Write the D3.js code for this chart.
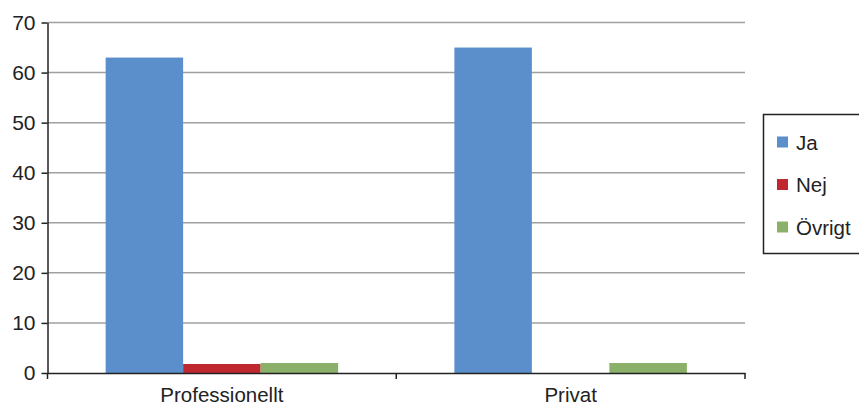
<!DOCTYPE html>
<html>
<head>
<meta charset="utf-8">
<script src="https://cdn.jsdelivr.net/npm/d3@7"></script>
<style>
  html, body { margin: 0; padding: 0; background: #fff; }
  svg { display: block; font-family: "Liberation Sans", Arial, sans-serif; }
</style>
</head>
<body>
<svg id="chart" width="859" height="406"></svg>
<script>
// Survey answers per category
const categories = ["Professionellt", "Privat"];
const seriesNames = ["Ja", "Nej", "Övrigt"];
const ja = [63, 65];
const nej = [1.8, 0];
const ovrigt = [2, 2];
const yTicks = [0, 10, 20, 30, 40, 50, 60, 70];

const seriesValues = [ja, nej, ovrigt];
const colors = ["#5b8fcb", "#c0282f", "#8bb06a"];

const svg = d3.select("#chart");
const plotLeft = 47.5, plotRight = 745, plotTop = 22.5, plotBottom = 373;

const x = d3.scaleBand().domain(categories).range([plotLeft, plotRight]).paddingInner(0).paddingOuter(0);
const xs = d3.scaleBand().domain(seriesNames).range([0, x.bandwidth()]).paddingInner(0).paddingOuter(0.75);
const y = d3.scaleLinear().domain([0, 70]).range([plotBottom, plotTop]);

// horizontal gridlines
svg.append("g")
  .selectAll("line")
  .data(yTicks.filter(d => d > 0))
  .join("line")
  .attr("x1", plotLeft).attr("x2", plotRight)
  .attr("y1", d => y(d)).attr("y2", d => y(d))
  .attr("stroke", "#a0a0a0").attr("stroke-width", 1.5);

// bars
const groups = svg.append("g")
  .selectAll("g")
  .data(categories)
  .join("g")
  .attr("transform", d => `translate(${x(d)},0)`);

groups.selectAll("rect")
  .data((c, i) => seriesNames.map((s, j) => ({ s, v: seriesValues[j][i], color: colors[j] })))
  .join("rect")
  .attr("x", d => xs(d.s))
  .attr("width", xs.bandwidth())
  .attr("y", d => y(d.v))
  .attr("height", d => plotBottom - y(d.v))
  .attr("fill", d => d.color);

// y axis
const yAxis = svg.append("g")
  .attr("transform", `translate(${plotLeft},0)`)
  .call(d3.axisLeft(y).tickValues(yTicks).tickSize(6).tickPadding(6).tickSizeOuter(0));
yAxis.select(".domain").attr("stroke", "#222").attr("stroke-width", 1.5);
yAxis.selectAll(".tick line").attr("stroke", "#222").attr("stroke-width", 1.5);
yAxis.selectAll(".tick text").attr("font-size", 21).attr("fill", "#222")
  .attr("font-family", "'Liberation Sans', Arial, sans-serif");

// x axis
const xAxis = svg.append("g")
  .attr("transform", `translate(0,${plotBottom})`)
  .call(d3.axisBottom(x).tickSize(0).tickPadding(14));
xAxis.select(".domain").attr("stroke", "#222").attr("stroke-width", 1.5);
xAxis.selectAll(".tick text").attr("font-size", 20.5).attr("fill", "#222")
  .attr("font-family", "'Liberation Sans', Arial, sans-serif");

// category separators on x axis
svg.append("g")
  .selectAll("line")
  .data([plotLeft, ...categories.map(c => x(c) + x.bandwidth())])
  .join("line")
  .attr("x1", d => d).attr("x2", d => d)
  .attr("y1", plotBottom).attr("y2", plotBottom + 6)
  .attr("stroke", "#222").attr("stroke-width", 1.5);

// legend
const legend = svg.append("g");
legend.append("rect")
  .attr("x", 763.5).attr("y", 114.5)
  .attr("width", 110).attr("height", 139)
  .attr("fill", "#fff").attr("stroke", "#222").attr("stroke-width", 1.5);

const items = legend.selectAll("g.item")
  .data(seriesNames)
  .join("g")
  .attr("class", "item")
  .attr("transform", (d, i) => `translate(777,${142 + i * 42.5})`);
items.append("rect")
  .attr("x", 0).attr("y", -5.5)
  .attr("width", 11).attr("height", 11)
  .attr("fill", (d, i) => colors[i]);
items.append("text")
  .attr("x", 19).attr("y", 7.5)
  .attr("font-size", 20.5).attr("fill", "#222")
  .text(d => d);
</script>
</body>
</html>
